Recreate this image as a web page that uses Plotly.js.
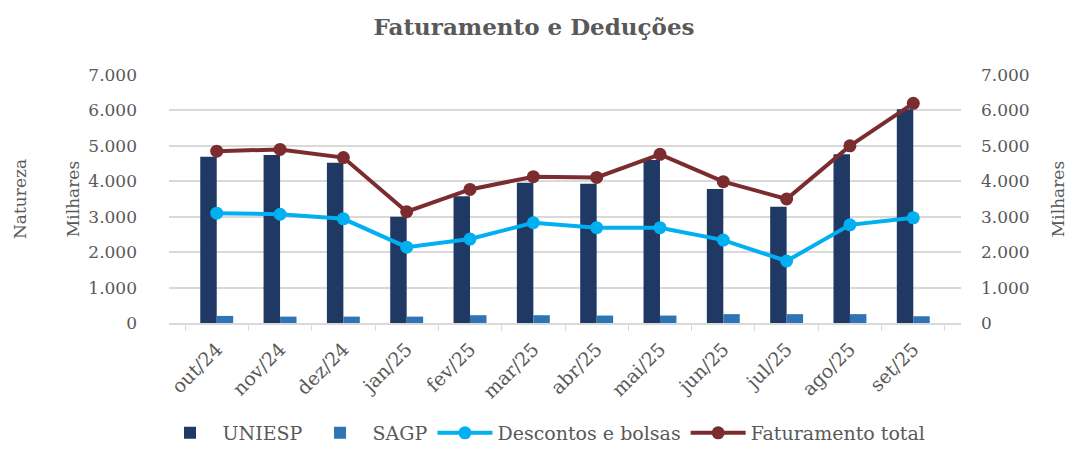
<!DOCTYPE html>
<html><head><meta charset="utf-8">
<script src="https://cdn.plot.ly/plotly-3.0.1.min.js"></script>
<style>html,body{margin:0;padding:0;background:#fff}#chart{width:1068px;height:452px}</style>
</head><body><div id="chart"></div>
<script>
const months = ['out/24','nov/24','dez/24','jan/25','fev/25','mar/25','abr/25','mai/25','jun/25','jul/25','ago/25','set/25'];
const uniesp = [4690,4740,4520,3000,3580,3960,3930,4600,3780,3280,4760,6030];
const sagp = [200,180,180,180,220,220,210,210,250,250,250,190];
const descontos = [3100,3070,2940,2140,2370,2830,2690,2690,2340,1750,2770,2970];
const faturamento = [4850,4900,4670,3140,3770,4130,4110,4760,3990,3500,5000,6200];

const gray = '#595959';
const font = 'DejaVu Serif';
const f = (s) => ({family:font, size:s, color:gray});
const traces = [
  {type:'bar', name:'UNIESP', x:months, y:uniesp, marker:{color:'#1F3864'}},
  {type:'bar', name:'SAGP', x:months, y:sagp, marker:{color:'#2E75B6'}},
  {type:'scatter', mode:'lines+markers', name:'Descontos e bolsas', x:months, y:descontos,
   line:{color:'#00B0F0', width:4}, marker:{color:'#00B0F0', size:13}},
  {type:'scatter', mode:'lines+markers', name:'Faturamento total', x:months, y:faturamento,
   line:{color:'#7B2C2F', width:4}, marker:{color:'#7B2C2F', size:13}},
  {type:'scatter', x:months, y:faturamento, yaxis:'y2', mode:'none', showlegend:false, hoverinfo:'skip'}
];
const layout = {
  width:1068, height:452,
  margin:{l:169, r:107, t:75, b:129},
  paper_bgcolor:'#fff', plot_bgcolor:'#fff',
  separators:',.',
  font:f(17),
  title:{text:'<b>Faturamento e Deduções</b>', x:0.5, xanchor:'center', yref:'container', y:0.94, yanchor:'middle', font:f(23)},
  barmode:'group', bargap:0.48, bargroupgap:0,
  showlegend:true,
  legend:{orientation:'h', xref:'container', x:544/1068, xanchor:'center', yref:'container', y:0, yanchor:'bottom', font:f(19), traceorder:'normal', itemwidth:55},
  xaxis:{type:'category', tickangle:-45, tickson:'boundaries', ticks:'outside', ticklen:6, tickcolor:'#d9d9d9',
    showline:true, linecolor:'#d9d9d9', linewidth:1.5, showgrid:false, tickfont:f(19), ticklabelstandoff:6, automargin:false},
  yaxis:{range:[0,7000], dtick:1000, tickformat:',d', showgrid:true, gridcolor:'#d9d9d9', gridwidth:1.5,
    zeroline:false, showline:false, tickfont:f(17), ticklabelstandoff:31, automargin:false,
    title:{text:'Milhares', font:f(17), standoff:4}},
  yaxis2:{range:[0,7000], dtick:1000, tickformat:',d', overlaying:'y', side:'right', showgrid:false,
    zeroline:false, showline:false, tickfont:f(17), ticklabelstandoff:19, automargin:false,
    title:{text:'Milhares', font:f(17), standoff:26}},
  annotations:[{text:'Natureza', xref:'paper', yref:'paper', x:(20-169)/792, xanchor:'center', y:0.5, showarrow:false, textangle:-90,
    font:f(17)}]
};
Plotly.newPlot('chart', traces, layout, {displayModeBar:false});
</script></body></html>
